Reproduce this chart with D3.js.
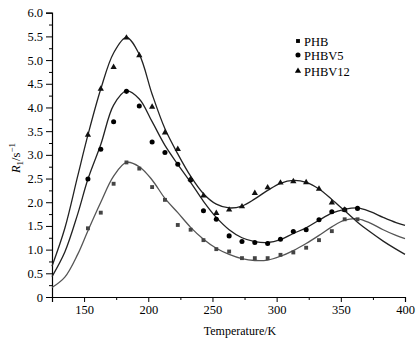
<!DOCTYPE html>
<html><head><meta charset="utf-8">
<script src="https://cdn.jsdelivr.net/npm/d3@7"></script>
<style>body{margin:0;background:#fff}svg{display:block}text{font-family:"Liberation Serif","Times New Roman",serif;fill:#000}</style>
</head><body><svg id="c" width="420" height="344"></svg>
<script>
// measured temperatures (K)
const tPts = [153,163,173,183,193,203,213,223,233,243,253,263,273,283,293,303,313,323,333,343,353,363];
const phb    = [1.45,1.78,2.39,2.84,2.71,2.32,2.05,1.52,1.42,1.20,1.01,0.96,0.82,0.82,0.82,0.89,0.94,1.04,1.20,1.39,1.64,1.64];
const phbv5  = [2.49,3.12,3.70,4.34,4.03,3.27,3.05,2.80,2.47,1.82,1.64,1.29,1.17,1.15,1.13,1.22,1.38,1.42,1.63,1.80,1.84,1.87];
const phbv12 = [3.42,4.39,4.85,5.47,5.10,4.01,3.47,3.12,2.49,2.14,1.77,1.84,1.91,2.19,2.31,2.41,2.44,2.42,2.28,1.99,1.84];
// fitted curves
const tFit = [125,135,145,153,163,173,183,193,203,213,223,233,243,253,263,273,283,293,303,313,323,333,343,353,363,373,383,393,400];
const fitPhb    = [0.20,0.42,0.90,1.40,2.00,2.55,2.84,2.75,2.47,2.08,1.78,1.47,1.22,1.03,0.90,0.81,0.77,0.78,0.86,0.98,1.13,1.30,1.48,1.62,1.65,1.56,1.42,1.30,1.23];
const fitPhbv5  = [0.43,0.95,1.75,2.49,3.22,4.05,4.35,4.18,3.70,3.20,2.80,2.42,2.02,1.68,1.42,1.25,1.17,1.15,1.21,1.34,1.46,1.62,1.77,1.85,1.88,1.80,1.68,1.57,1.51];
const fitPhbv12 = [0.65,1.45,2.55,3.42,4.39,5.15,5.48,5.12,4.28,3.55,3.02,2.55,2.18,1.96,1.88,1.92,2.07,2.25,2.40,2.46,2.42,2.28,2.06,1.82,1.58,1.37,1.18,1.01,0.90];
const xTicks = [150,200,250,300,350,400];
const yTicks = [0,0.5,1.0,1.5,2.0,2.5,3.0,3.5,4.0,4.5,5.0,5.5,6.0];
const seriesNames = ["PHB","PHBV5","PHBV12"];

const svg = d3.select("#c");
const x = d3.scaleLinear().domain([125,400]).range([52,405]);
const y = d3.scaleLinear().domain([0,6]).range([297,12.7]);

// axes
const xAxis = d3.axisBottom(x).tickValues(xTicks).tickSize(5).tickPadding(3).tickFormat(d3.format("d"));
svg.append("g").attr("transform","translate(0,297)").call(xAxis);
svg.append("g").attr("transform","translate(0,297)")
  .call(d3.axisBottom(x).tickValues([175,225,275,325,375]).tickSize(3).tickFormat(""))
  .call(g=>g.select(".domain").remove());
const yAxis = d3.axisLeft(y).tickValues(yTicks).tickSize(6).tickPadding(3)
  .tickFormat(d=> d===0 ? "0" : d3.format(".1f")(d));
svg.append("g").attr("transform","translate(52,0)").call(yAxis);
svg.append("g").attr("transform","translate(52,0)")
  .call(d3.axisLeft(y).tickValues(d3.range(0,12).map(i=>i*0.5+0.25)).tickSize(3).tickFormat(""))
  .call(g=>g.select(".domain").remove());
svg.selectAll("g").attr("font-family",null);
svg.selectAll(".domain").attr("stroke","#000").attr("stroke-width",1.2);
svg.selectAll(".tick line").attr("stroke","#000");
svg.selectAll(".tick text").style("font-family","'Liberation Serif',serif").style("font-size","12.5px").attr("fill","#000");

// axis labels
svg.append("text").attr("x",240).attr("y",335).attr("text-anchor","middle").style("font-size","12px").text("Temperature/K");
const yl = svg.append("text").attr("transform","translate(20,158) rotate(-90)").attr("text-anchor","middle").style("font-size","12.5px");
yl.append("tspan").style("font-style","italic").text("R");
yl.append("tspan").attr("dy",3).style("font-size","9px").text("1");
yl.append("tspan").attr("dy",-3).text("/s");
yl.append("tspan").attr("dy",-5).style("font-size","9px").text("\u22121");

// curves
const line = d3.line().x((d,i)=>x(tFit[i])).y(d=>y(d)).curve(d3.curveCatmullRom.alpha(0.5));
svg.append("path").attr("d",line(fitPhb)).attr("fill","none").attr("stroke","#555").attr("stroke-width",1.3);
svg.append("path").attr("d",line(fitPhbv5)).attr("fill","none").attr("stroke","#222").attr("stroke-width",1.3);
svg.append("path").attr("d",line(fitPhbv12)).attr("fill","none").attr("stroke","#222").attr("stroke-width",1.3);

// markers
const sq = d3.symbol().type(d3.symbolSquare).size(15);
const ci = d3.symbol().type(d3.symbolCircle).size(20);
const tr = d3.symbol().type(d3.symbolTriangle).size(17);
svg.append("g").selectAll("path").data(phb).join("path")
  .attr("d",sq).attr("transform",(d,i)=>`translate(${x(tPts[i])},${y(d)})`).attr("fill","#444");
svg.append("g").selectAll("path").data(phbv5).join("path")
  .attr("d",ci).attr("transform",(d,i)=>`translate(${x(tPts[i])},${y(d)})`).attr("fill","#000");
svg.append("g").selectAll("path").data(phbv12).join("path")
  .attr("d",tr).attr("transform",(d,i)=>`translate(${x(tPts[i])},${y(d)})`).attr("fill","#111");

// legend
const legY = [41,55,71];
const syms = [sq, ci, tr];
seriesNames.forEach((n,i)=>{
  svg.append("path").attr("d",syms[i]).attr("transform",`translate(298,${legY[i]})`).attr("fill","#000");
  svg.append("text").attr("x",304).attr("y",legY[i]+5).style("font-size","12.5px").text(n);
});
</script></body></html>
